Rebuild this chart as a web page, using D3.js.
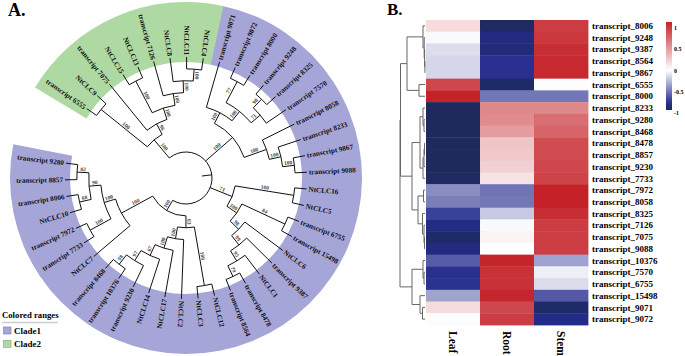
<!DOCTYPE html>
<html>
<head>
<meta charset="utf-8">
<script src="https://cdn.jsdelivr.net/npm/d3@7"></script>
<style>
  body { margin: 0; background: #fff; }
  text { font-family: "Liberation Serif", "Times New Roman", serif; font-weight: bold; }
</style>
</head>
<body>
<svg id="fig" width="685" height="356"></svg>
<script>
// ---- panel A: tree (Newick, bootstrap after each ")") ----
const cladeGreen = "((transcript_6555,NtCLC9)100,(transcript_7075,((NtCLC15,NtCLC13)100,(transcript_7126,(NtCLC8,(NtCLC11,NtCLC4)100)100)100)100)96)100";
const cladeUpper = "((transcript_9071,((transcript_9072,transcript_8000)77,((transcript_9248,transcript_8325)98,transcript_7570)71)100)100,(transcript_8058,(transcript_8233,(transcript_9867,transcript_9088)100)100)100)100";
const cladeRight = "((NtCLC16,NtCLC5)100,((transcript_6755,transcript_15498)84,(NtCLC6,(transcript_9387,(NtCLC1,(transcript_8478,transcript_8564)79)95)99)98)100)71";
const cladeLower = "(((NtCLC12,NtCLC3)100,(NtCLC2,(NtCLC17,(NtCLC14,(transcript_9230,(transcript_10376,transcript_8468)98)97)67)100)100)63,(NtCLC7,((transcript_7733,transcript_7972)100,((NtCLC10,transcript_8006)68,(transcript_8857,transcript_9280)82)90)100)100)100";

const rangeNames = ["Clade1", "Clade2"];
const rangeFrom = ["transcript 9071", "transcript 6555"];
const rangeTo = ["transcript 9280", "NtCLC4"];

// ---- panel B: heatmap ----
const tissues = ["Leaf", "Root", "Stem"];
const heatRows = ["transcript_8006", "transcript_9248", "transcript_9387", "transcript_8564", "transcript_9867",
  "transcript_6555", "transcript_8000", "transcript_8233", "transcript_9280", "transcript_8468",
  "transcript_8478", "transcript_8857", "transcript_9230", "transcript_7733", "transcript_7972",
  "transcript_8058", "transcript_8325", "transcript_7126", "transcript_7075", "transcript_9088",
  "transcript_10376", "transcript_7570", "transcript_6755", "transcript_15498", "transcript_9071", "transcript_9072"];
const leafVals = [0.18, -0.02, -0.12, -0.15, -0.15, 0.95, 1.14, -0.94, -0.94, -0.94, -0.94, -0.94, -0.94, -0.92,
  -0.42, -0.47, -0.70, -0.80, -0.90, -0.82, -0.60, -0.76, -0.75, -0.34, 0.18, -0.01];
const rootVals = [-0.92, -0.82, -0.85, -0.76, -0.76, -0.90, -0.50, 0.61, 0.60, 0.51, 0.30, 0.28, 0.25, 0.15,
  -0.51, -0.50, -0.20, -0.02, 0.06, 0.00, 1.12, 1.06, 1.06, 1.12, 0.95, 1.00];
const stemVals = [1.00, 1.03, 1.08, 1.10, 1.10, 0.01, -0.50, 0.61, 0.75, 0.80, 0.92, 0.93, 0.95, 0.97,
  1.14, 1.14, 1.08, 1.00, 1.00, 1.00, -0.34, -0.06, -0.13, -0.61, -0.90, -0.80];
// row dendrogram: [height, left, right], leaves are row indices
const rowTree = [25,
  [24.5,
    [18, [2, 0, [0.8, 1, [0.4, 2, [0.1, 3, 4]]]], [6, 5, 6]],
    [13, [5, [2, 7, [1, 8, 9]], [2, [1, [0.5, 10, 11], 12], 13]],
         [7, [1.5, 14, 15], [2.5, 16, [1, 17, [0.5, 18, 19]]]]]],
  [13, [2, 20, [1, 21, 22]], [5, 23, [2.5, 24, 25]]]];
const legendTicks = [1, 0.5, 0, -0.5, -1];
const valueExtent = [-0.94, 1.14];

const svg = d3.select("#fig");

// ================= A. circular tree =================
function parseNewick(s) {
  let i = 0;
  function node() {
    const n = {};
    if (s[i] === "(") {
      i++;
      n.children = [];
      do { n.children.push(node()); } while (s[i++] === ",");
    }
    let tok = "";
    while (i < s.length && !",();".includes(s[i])) tok += s[i++];
    if (n.children) n.support = tok ? +tok : null;
    else n.name = tok.replace(/_/g, " ");
    return n;
  }
  return node();
}

const cx = 186, cy = 178;
const rRoot = 26, rTip = 121, ringIn = 116, ringOut = 176;
const startAngle = 301, spanAngle = 340;
const rangeColors = ["#a5a5d7", "#afd9a2"];

const root = d3.hierarchy(parseNewick("(" + [cladeGreen, cladeUpper, cladeRight, cladeLower].join(",") + ");"));
d3.cluster().size([spanAngle, 1]).separation(() => 1)(root);
const leaves = root.leaves();
const step = spanAngle / (leaves.length - 1);
const rScale = d3.scaleLinear().domain([0, 1]).range([rRoot, rTip]);
const rad = a => a * Math.PI / 180;
const ang = d => startAngle + d.x;
const pt = (a, r) => [r * Math.sin(rad(a)), -r * Math.cos(rad(a))];
const byName = new Map(leaves.map(d => [d.data.name, d]));

const gA = svg.append("g").attr("transform", `translate(${cx},${cy})`);

// colored ranges
const ringArc = d3.arc().innerRadius(ringIn).outerRadius(ringOut);
rangeNames.forEach((n, k) => {
  const a0 = ang(byName.get(rangeFrom[k])) - step / 2;
  const a1 = ang(byName.get(rangeTo[k])) + step / 2;
  gA.append("path")
    .attr("d", ringArc({ startAngle: rad(a0), endAngle: rad(a1) }))
    .attr("fill", rangeColors[k]);
});

// branches
const p = d3.path();
root.descendants().forEach(d => {
  if (d.parent) {
    const a = pt(ang(d), rScale(d.parent.y));
    const b = pt(ang(d), d.children ? rScale(d.y) : rTip);
    p.moveTo(a[0], a[1]);
    p.lineTo(b[0], b[1]);
  }
  if (d.children) {
    const r = rScale(d.y);
    const a0 = ang(d.children[0]), a1 = ang(d.children[d.children.length - 1]);
    const s = pt(a0, r);
    p.moveTo(s[0], s[1]);
    p.arc(0, 0, r, rad(a0 - 90), rad(a1 - 90));
  }
});
// root stub
const st0 = pt(ang(root), rRoot), st1 = pt(ang(root), rRoot - 10);
p.moveTo(st0[0], st0[1]);
p.lineTo(st1[0], st1[1]);
gA.append("path").attr("d", p.toString()).attr("fill", "none").attr("stroke", "#111").attr("stroke-width", 1);

const isFlip = a => ((a - 9) % 360 + 360) % 360 > 180;

// bootstrap values
root.descendants().filter(d => d.parent && d.children && d.data.support != null).forEach(d => {
  const a = ang(d);
  const r = (rScale(d.parent.y) + rScale(d.y)) / 2;
  const q = pt(a, r);
  gA.append("text")
    .attr("transform", `translate(${q[0]},${q[1]}) rotate(${isFlip(a) ? a + 90 : a - 90})`)
    .attr("text-anchor", "middle")
    .attr("dy", "-0.25em")
    .attr("font-size", 5.5)
    .attr("font-weight", "normal")
    .attr("fill", "#444")
    .text(d.data.support);
});

// leaf labels
leaves.forEach(d => {
  const a = ang(d);
  const q = pt(a, rTip + 2);
  const f = isFlip(a);
  gA.append("text")
    .attr("transform", `translate(${q[0]},${q[1]}) rotate(${f ? a + 90 : a - 90})`)
    .attr("text-anchor", f ? "end" : "start")
    .attr("dy", "0.33em")
    .attr("font-size", 7.2)
    .attr("fill", "#111")
    .text(d.data.name);
});

svg.append("text").attr("x", 8).attr("y", 16).attr("font-size", 18).text("A.");

// legend
const lg = svg.append("g");
lg.append("text").attr("x", 2).attr("y", 318).attr("font-size", 8.7).text("Colored ranges");
lg.append("line").attr("x1", 2).attr("x2", 58).attr("y1", 322.5).attr("y2", 322.5)
  .attr("stroke", "#ccc").attr("stroke-width", 1.5);
rangeNames.forEach((n, k) => {
  const y = 327 + k * 13.3;
  lg.append("rect").attr("x", 3.5).attr("y", y).attr("width", 7.5).attr("height", 7)
    .attr("fill", rangeColors[k]).attr("stroke", d3.color(rangeColors[k]).darker(0.8)).attr("stroke-width", 0.6);
  lg.append("text").attr("x", 14).attr("y", y + 6.5).attr("font-size", 9).text(n);
});

// ================= B. heatmap =================
svg.append("text").attr("x", 387).attr("y", 15).attr("font-size", 17).text("B.");

const xBand = d3.scaleBand().domain(tissues).range([426, 588]);
const yBand = d3.scaleBand().domain(d3.range(heatRows.length)).range([20, 325]);
const color = d3.scaleLinear()
  .domain([valueExtent[0], -0.78, 0, valueExtent[1]])
  .range(["#1e2a5c", "#232b8c", "#ffffff", "#c42228"])
  .clamp(true);

const cells = [];
heatRows.forEach((r, i) => {
  [leafVals[i], rootVals[i], stemVals[i]].forEach((v, j) => cells.push({ row: i, col: tissues[j], v }));
});
svg.append("g").selectAll("rect").data(cells).join("rect")
  .attr("x", d => xBand(d.col))
  .attr("y", d => yBand(d.row))
  .attr("width", xBand.bandwidth() + 0.4)
  .attr("height", yBand.bandwidth() + 0.4)
  .attr("fill", d => color(d.v));

svg.append("g").selectAll("text").data(heatRows).join("text")
  .attr("x", 592)
  .attr("y", (d, i) => yBand(i) + yBand.bandwidth() / 2)
  .attr("dy", "0.35em")
  .attr("font-size", 9)
  .text(d => d);

svg.append("g").selectAll("text").data(tissues).join("text")
  .attr("transform", d => `translate(${xBand(d) + xBand.bandwidth() / 2},331) rotate(90)`)
  .attr("dy", "0.35em")
  .attr("font-size", 11.5)
  .text(d => d);

// row dendrogram
const hx = d3.scaleLinear().domain([0, rowTree[0]]).range([425, 400]);
const dg = svg.append("g").attr("fill", "none").attr("stroke", "#666").attr("stroke-width", 1);
function drawNode(n) {
  if (typeof n === "number") return { y: yBand(n) + yBand.bandwidth() / 2, h: 0 };
  const a = drawNode(n[1]), b = drawNode(n[2]);
  const x = hx(n[0]);
  dg.append("path").attr("d", `M${hx(a.h)},${a.y}H${x}V${b.y}H${hx(b.h)}`);
  return { y: (a.y + b.y) / 2, h: n[0] };
}
drawNode(rowTree);

// color key
const ly = d3.scaleLinear().domain(valueExtent).range([110, 22]);
const grad = svg.append("defs").append("linearGradient").attr("id", "key")
  .attr("x1", 0).attr("y1", 1).attr("x2", 0).attr("y2", 0);
d3.range(0, 1.0001, 0.05).forEach(t => {
  grad.append("stop").attr("offset", t)
    .attr("stop-color", color(valueExtent[0] + t * (valueExtent[1] - valueExtent[0])));
});
svg.append("rect").attr("x", 666).attr("y", ly(valueExtent[1])).attr("width", 6)
  .attr("height", ly(valueExtent[0]) - ly(valueExtent[1])).attr("fill", "url(#key)");
const keyAxis = svg.append("g").attr("transform", "translate(672,0)")
  .call(d3.axisRight(ly).tickValues(legendTicks).tickSize(0).tickPadding(2).tickFormat(d => String(d)));
keyAxis.select(".domain").remove();
keyAxis.selectAll("text").attr("font-size", 6).attr("font-family", "Liberation Serif, serif").attr("font-weight", "normal");
</script>
</body>
</html>
